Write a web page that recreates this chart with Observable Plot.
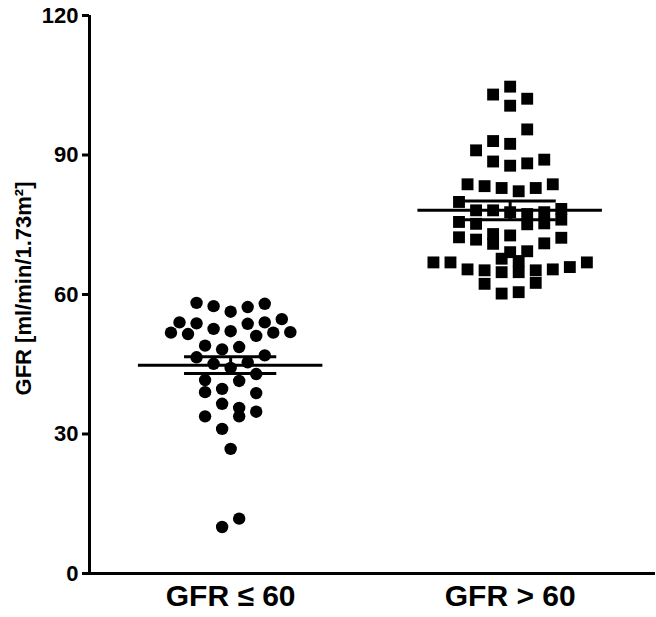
<!DOCTYPE html>
<html>
<head>
<meta charset="utf-8">
<script src="https://cdn.jsdelivr.net/npm/d3@7"></script>
<script src="https://cdn.jsdelivr.net/npm/@observablehq/plot@0.6"></script>
<style>
  html, body { margin: 0; padding: 0; background: #fff; }
  #chart { width: 656px; height: 617px; }
</style>
</head>
<body>
<div id="chart"></div>
<script>
// ---- data ----
const groups = ["GFR ≤ 60", "GFR > 60"];
const yLabel = "GFR [ml/min/1.73m²]";
const yTicks = [0, 30, 60, 90, 120];

// GFR ≤ 60 (circles): value and beeswarm slot
const lowValues = [58.2, 57.5, 56.3, 57.3, 58.0,
  54.0, 53.8, 53.7, 54.0, 54.7,
  51.8, 51.5, 52.6, 52.1, 51.1, 51.8, 51.9,
  49.0, 48.2, 48.7,
  46.5, 46.9,
  45.1, 44.2, 45.4,
  41.6, 41.4, 42.9,
  39.0, 39.7, 38.8,
  36.5, 35.6, 34.8, 33.8, 33.8,
  31.1, 26.8, 11.8, 10.0];
const lowSlots = [-4, -2, 0, 2, 4,
  -6, -4, 2, 4, 6,
  -7, -5, -2, 0, 3, 5, 7,
  -3, -1, 1,
  -4, 4,
  -2, 0, 2,
  -3, 1, 3,
  -3, -1, 3,
  -1, 1, 3, 1, -3,
  -1, 0, 1, -1];

// GFR > 60 (squares)
const highValues = [104.7, 103.0, 102.1, 100.6, 95.5, 93.0, 92.4, 91.0, 88.6, 87.7, 88.2, 89.0,
  83.7, 83.3, 82.9, 82.2, 82.9, 83.7,
  79.9,
  78.1, 78.1, 77.7, 77.3, 77.7, 78.4,
  75.6, 75.2, 75.1, 75.3, 76.1,
  72.3, 71.8, 73.0, 70.9, 72.7, 71.0, 72.2,
  69.3, 69.1, 67.7, 67.2,
  66.9, 66.9, 65.4, 65.2, 64.8, 64.8, 65.2, 65.4, 65.9, 66.9,
  62.3, 62.5, 60.2, 60.5];
const highSlots = [0, -2, 2, 0, 2, -2, 0, -4, -2, 0, 2, 4,
  -5, -3, -1, 1, 3, 5,
  -6,
  -4, -2, 0, 2, 4, 6,
  -6, -4, 2, 4, 6,
  -6, -4, -2, -2, 0, 4, 6,
  2, 0, -1, 1,
  -9, -7, -5, -3, -1, 1, 3, 5, 7, 9,
  -3, 3, -1, 1];

// mean and SEM as drawn in the reference
const means = [44.8, 78.1];
const sems = [1.8, 2.0];

// ---- build tables ----
const groupPos = [1, 2];
const slotW = 0.0305;
const xDomain = [0.495, 2.52];
const low = lowValues.map((v, i) => ({g: 0, v, s: lowSlots[i]}));
const high = highValues.map((v, i) => ({g: 1, v, s: highSlots[i]}));
const stats = means.map((m, i) => ({g: i, m, lo: m - sems[i], hi: m + sems[i]}));
const xOf = d => groupPos[d.g] + d.s * slotW;

const font = "'Liberation Sans', Arial, Helvetica, sans-serif";

const chart = Plot.plot({
  width: 656,
  height: 617,
  marginLeft: 89,
  marginRight: 1,
  marginTop: 15,
  marginBottom: 44,
  style: {fontFamily: font, fontWeight: "bold", background: "#fff", color: "#000"},
  x: {domain: xDomain, axis: null},
  y: {domain: [0, 120], axis: null},
  marks: [
    Plot.axisY({ticks: yTicks, tickSize: 7, tickFormat: () => "", strokeWidth: 3, label: null}),
    Plot.text(yTicks, {y: d => d, frameAnchor: "left", textAnchor: "end", dx: -11,
      fontSize: 22, fontWeight: "bold"}),
    Plot.ruleX([xDomain[0]], {y1: 0, y2: 120, strokeWidth: 3}),
    Plot.ruleY([0], {strokeWidth: 3}),
    Plot.text(groups, {x: (d, i) => groupPos[i], frameAnchor: "bottom", lineAnchor: "bottom", dy: 32,
      fontSize: 30, fontWeight: "bold"}),
    Plot.text([yLabel], {frameAnchor: "left", textAnchor: "middle", dx: -66, dy: -6, rotate: -90,
      fontSize: 22, fontWeight: "bold"}),
    Plot.dot(low, {x: xOf, y: "v", r: 6.2, symbol: "circle", fill: "#000", stroke: null}),
    Plot.dot(high, {x: xOf, y: "v", r: 6.7, symbol: "square", fill: "#000", stroke: null}),
    Plot.ruleY(stats, {y: "m", x1: d => groupPos[d.g] - 0.33, x2: d => groupPos[d.g] + 0.33, strokeWidth: 3}),
    Plot.ruleY(stats, {y: "hi", x1: d => groupPos[d.g] - 0.165, x2: d => groupPos[d.g] + 0.165, strokeWidth: 3}),
    Plot.ruleY(stats, {y: "lo", x1: d => groupPos[d.g] - 0.165, x2: d => groupPos[d.g] + 0.165, strokeWidth: 3}),
    Plot.ruleX(stats, {x: d => groupPos[d.g], y1: "lo", y2: "hi", strokeWidth: 3})
  ]
});
document.getElementById("chart").appendChild(chart);
</script>
</body>
</html>
